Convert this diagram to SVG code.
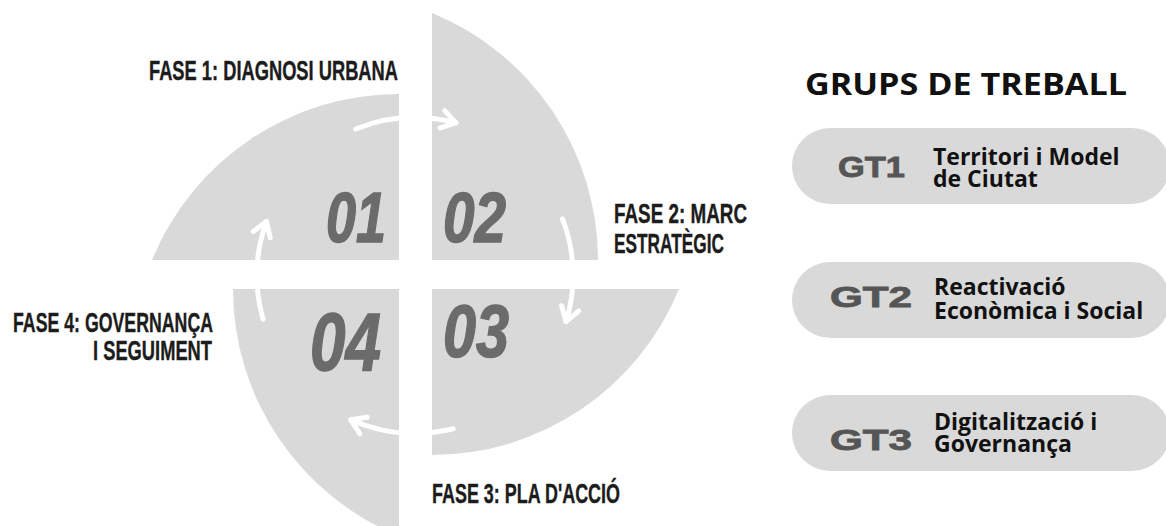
<svg xmlns="http://www.w3.org/2000/svg" width="1166" height="526" viewBox="0 0 1166 526">
<style>
.quad{fill:#d9d9d9;}
.num{font-family:"Liberation Sans",Arial,sans-serif;font-weight:bold;font-style:italic;fill:#6b6b6b;stroke:#6b6b6b;stroke-width:1.5;}
.fase{font-family:"Liberation Sans",Arial,sans-serif;font-weight:bold;font-size:28px;fill:#1c1c1c;stroke:#1c1c1c;stroke-width:0.4;}
.pill{fill:#d9d9d9;}
.gt{font-family:"Liberation Sans",Arial,sans-serif;font-weight:bold;font-size:29px;fill:#555555;stroke:#555555;stroke-width:0.8;text-anchor:middle;}
.desc{font-family:"Open Sans","Liberation Sans",sans-serif;font-weight:bold;font-size:23px;fill:#111;}
.title{font-family:"Open Sans","Liberation Sans",sans-serif;font-weight:bold;font-size:31px;fill:#111;}
.arrow{fill:none;stroke:#ffffff;stroke-width:5;stroke-linecap:round;marker-end:url(#head);}
</style>
<defs>
<marker id="head" markerUnits="userSpaceOnUse" orient="auto" markerWidth="40" markerHeight="40" viewBox="-20 -20 40 40" refX="0" refY="0" overflow="visible">
<path d="M-14,-9 L0,0 L-14,9" fill="none" stroke="#ffffff" stroke-width="5" stroke-linecap="round" stroke-linejoin="round"/>
</marker>
</defs>
<rect width="1166" height="526" fill="#ffffff"/>

<g id="fase1">
<path class="quad" d="M399,94 L399,260 L152,260 A267,267 0 0 1 399,94 Z"/>
<text class="num" x="326" y="242" font-size="71" textLength="60" lengthAdjust="spacingAndGlyphs">01</text>
<text class="fase" x="149" y="80" textLength="249" lengthAdjust="spacingAndGlyphs">FASE 1: DIAGNOSI URBANA</text>
</g>
<g id="fase2">
<path class="quad" d="M432,260 L432,13 A267,267 0 0 1 598,260 Z"/>
<text class="num" x="443" y="242" font-size="71" textLength="63" lengthAdjust="spacingAndGlyphs">02</text>
<text class="fase" x="614" y="223" textLength="133" lengthAdjust="spacingAndGlyphs">FASE 2: MARC</text>
<text class="fase" x="614" y="253" textLength="110" lengthAdjust="spacingAndGlyphs">ESTRATÈGIC</text>
</g>
<g id="fase3">
<path class="quad" d="M432,289 L679,289 A267,267 0 0 1 432,455 Z"/>
<text class="num" x="443" y="357" font-size="74" textLength="66" lengthAdjust="spacingAndGlyphs">03</text>
<text class="fase" x="432" y="503" textLength="188" lengthAdjust="spacingAndGlyphs">FASE 3: PLA D'ACCIÓ</text>
</g>
<g id="fase4">
<path class="quad" d="M399,289 L399,536 A267,267 0 0 1 233,289 Z"/>
<text class="num" x="310" y="370" font-size="82" textLength="71" lengthAdjust="spacingAndGlyphs">04</text>
<text class="fase" x="13" y="332" textLength="200" lengthAdjust="spacingAndGlyphs">FASE 4: GOVERNANÇA</text>
<text class="fase" x="93" y="360" textLength="119" lengthAdjust="spacingAndGlyphs">I SEGUIMENT</text>
</g>

<g id="connectors">
<path class="arrow" d="M355.8,129.0 A158,158 0 0 1 455.9,122.9"/>
<path class="arrow" d="M562.5,218.9 A158,158 0 0 1 566.1,321.7"/>
<path class="arrow" d="M453.2,428.8 A158,158 0 0 1 350.7,419.8"/>
<path class="arrow" d="M263.1,319.1 A158,158 0 0 1 266.5,221.5"/>
</g>

<g id="title">
<text class="title" x="805" y="95" textLength="322" lengthAdjust="spacingAndGlyphs">GRUPS DE TREBALL</text>
</g>
<g id="gt1">
<rect class="pill" x="792" y="128" width="378" height="76" rx="38"/>
<text class="gt" x="871.5" y="177" textLength="67" lengthAdjust="spacingAndGlyphs">GT1</text>
<text class="desc" x="933" y="165">Territori i Model<tspan x="933" y="187">de Ciutat</tspan></text>
</g>
<g id="gt2">
<rect class="pill" x="792" y="262" width="378" height="76" rx="38"/>
<text class="gt" x="871" y="307" textLength="82" lengthAdjust="spacingAndGlyphs">GT2</text>
<text class="desc" x="934" y="295">Reactivació<tspan x="934" y="319">Econòmica i Social</tspan></text>
</g>
<g id="gt3">
<rect class="pill" x="792" y="395" width="378" height="76" rx="38"/>
<text class="gt" x="871" y="450" textLength="82" lengthAdjust="spacingAndGlyphs">GT3</text>
<text class="desc" x="934" y="430">Digitalització i<tspan x="934" y="452">Governança</tspan></text>
</g>
</svg>
